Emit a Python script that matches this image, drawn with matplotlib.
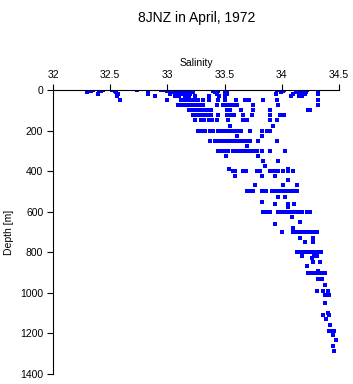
import matplotlib
matplotlib.use("Agg")
import matplotlib.pyplot as plt

# depth levels [m] and salinity values read at each level
depth_levels = [0, 5, 10, 20, 30, 50, 75, 100, 125, 150, 175, 200, 225, 250, 275,
                300, 325, 350, 375, 390, 400, 425, 445, 470, 500, 525, 550, 560,
                575, 600, 625, 650, 660, 680, 700, 730, 750, 800, 820, 830, 850,
                870, 890, 900, 930, 960, 990, 1010, 1050, 1100, 1110, 1130, 1160,
                1190, 1210, 1230, 1260, 1285]

salinity_by_level = [
    [32.32, 32.35, 32.40, 32.44, 32.52, 32.73, 32.83, 32.94, 32.98, 33.01, 33.03,
     33.05, 33.08, 33.11, 33.13, 33.15, 33.17, 33.19, 33.40, 33.43, 33.50, 33.52,
     33.96, 34.00, 34.02, 34.13, 34.15, 34.18, 34.20, 34.22, 34.32],
    [32.33, 32.42, 32.54, 33.00, 33.04, 33.10, 33.14, 33.18, 33.40, 33.44, 33.51,
     34.01, 34.14, 34.19, 34.32],
    [32.30, 32.55, 33.02, 33.06, 33.12, 33.16, 33.22, 33.42, 33.50, 33.99, 34.12,
     34.17, 34.21, 34.32],
    [32.39, 32.57, 32.83, 33.02, 33.09, 33.13, 33.17, 33.20, 33.43, 33.52, 33.95,
     34.10, 34.16, 34.20, 34.32],
    [32.56, 32.89, 33.07, 33.10, 33.15, 33.19, 33.24, 33.36, 33.45, 33.50, 34.08,
     34.15, 34.18],
    [32.59, 33.00, 33.12, 33.15, 33.17, 33.20, 33.23, 33.27, 33.31, 33.36, 33.44,
     33.50, 33.60, 33.68, 33.71, 33.84, 33.96, 34.32],
    [33.09, 33.12, 33.14, 33.17, 33.20, 33.23, 33.26, 33.29, 33.31, 33.43, 33.49,
     33.52, 33.55, 33.58, 33.61, 33.75, 33.97, 34.32],
    [33.19, 33.22, 33.24, 33.28, 33.31, 33.33, 33.36, 33.38, 33.52, 33.55, 33.64,
     33.75, 33.90, 34.23, 34.25],
    [33.22, 33.26, 33.29, 33.32, 33.35, 33.38, 33.44, 33.52, 33.55, 33.58, 33.66,
     33.74, 33.90, 33.98, 34.02],
    [33.24, 33.29, 33.32, 33.36, 33.39, 33.43, 33.53, 33.66, 33.70, 33.90, 33.96],
    [33.55, 33.92],
    [33.27, 33.30, 33.33, 33.37, 33.40, 33.44, 33.47, 33.50, 33.53, 33.56, 33.59,
     33.61, 33.64, 33.72, 33.83, 33.87, 33.90],
    [33.61, 33.83],
    [33.37, 33.42, 33.45, 33.48, 33.51, 33.54, 33.57, 33.60, 33.63, 33.66, 33.69,
     33.72, 33.79, 33.96],
    [33.70],
    [33.44, 33.47, 33.50, 33.53, 33.57, 33.60, 33.63, 33.66, 33.69, 33.72, 33.75,
     33.78, 33.83, 33.90, 34.03],
    [33.51, 33.79],
    [33.84, 33.97],
    [33.85],
    [33.54, 34.05],
    [33.57, 33.59, 33.66, 33.69, 33.78, 33.81, 33.90, 33.92, 33.95, 33.97, 34.01,
     34.05, 34.10],
    [33.59, 33.83, 33.94],
    [34.05],
    [33.77, 34.01, 34.13],
    [33.70, 33.73, 33.75, 33.83, 33.86, 33.91, 33.93, 33.96, 33.99, 34.02, 34.05,
     34.08, 34.11, 34.13],
    [33.97, 34.03],
    [33.83],
    [33.94, 34.05, 34.11],
    [34.05],
    [33.84, 33.87, 33.90, 33.97, 34.00, 34.03, 34.06, 34.09, 34.12, 34.15, 34.18,
     34.22, 34.25],
    [34.09],
    [34.16],
    [33.94],
    [34.10],
    [34.00, 34.10, 34.13, 34.16, 34.19, 34.22, 34.25, 34.27, 34.31],
    [34.16, 34.27],
    [34.20, 34.27],
    [34.13, 34.17, 34.19, 34.22, 34.25, 34.28, 34.31, 34.34],
    [34.18, 34.28, 34.31],
    [34.26],
    [34.27, 34.33],
    [34.22],
    [34.32],
    [34.23, 34.26, 34.29, 34.32, 34.35, 34.38],
    [34.32, 34.35],
    [34.38],
    [34.31, 34.36, 34.40],
    [34.38, 34.41],
    [34.38],
    [34.40],
    [34.36, 34.41],
    [34.39],
    [34.42],
    [34.41, 34.44, 34.46],
    [34.45],
    [34.47],
    [34.45],
    [34.46],
]

x_ticks = [32, 32.5, 33, 33.5, 34, 34.5]
y_ticks = [0, 200, 400, 600, 800, 1000, 1200, 1400]

sal = []
dep = []
for d, vals in zip(depth_levels, salinity_by_level):
    for s in vals:
        sal.append(s)
        dep.append(d)

plt.rcParams['font.family'] = ['Liberation Sans', 'DejaVu Sans']

fig = plt.figure(figsize=(3.53, 3.84), dpi=100)
ax = fig.add_axes([53 / 353, 1 - 374 / 384, 286 / 353, 284 / 384])

ax.scatter(sal, dep, s=4.7, marker='s', color='#0000ff', linewidths=0)

ax.set_xlim(32, 34.5)
ax.set_ylim(1400, 0)
ax.set_xticks(x_ticks)
ax.set_xticklabels(['32', '32.5', '33', '33.5', '34', '34.5'])
ax.set_yticks(y_ticks)

ax.xaxis.tick_top()
ax.xaxis.set_label_position('top')
ax.set_xlabel('Salinity', fontsize=7.5, labelpad=3)
ax.set_ylabel('Depth [m]', fontsize=7.5, labelpad=4)
ax.tick_params(axis='both', direction='out', length=4, width=0.8,
               labelsize=7.5, pad=3)

for side in ['right', 'bottom']:
    ax.spines[side].set_visible(False)
for side in ['top', 'left']:
    ax.spines[side].set_linewidth(0.8)

fig.text(197 / 353, 1 - 18 / 384, '8JNZ in April, 1972', ha='center',
         va='center', fontsize=10)

fig.savefig('out.png', dpi=100)
